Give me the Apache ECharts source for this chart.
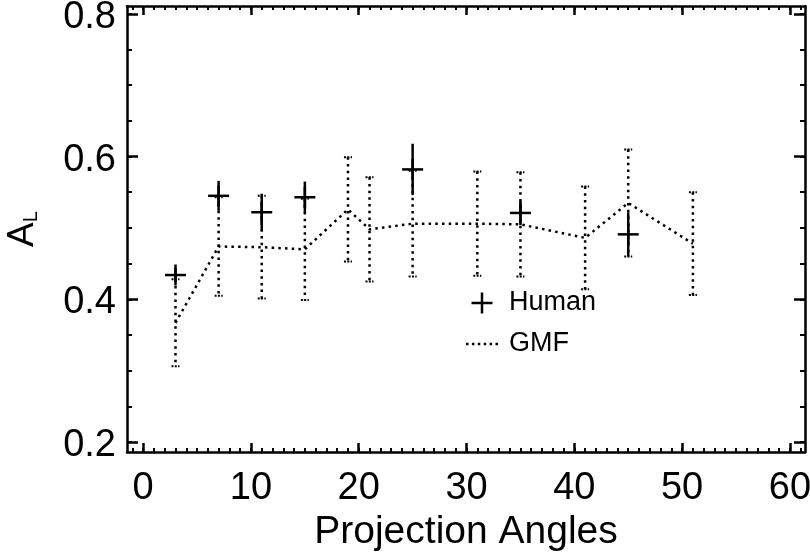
<!DOCTYPE html>
<html>
<head>
<meta charset="utf-8">
<script src="https://cdn.jsdelivr.net/npm/echarts@6/dist/echarts.min.js"></script>
<style>html,body{margin:0;padding:0;background:#fff}#c{width:810px;height:555px}</style>
</head>
<body>
<div id="c"></div>
<script>
// ---- data ----
const humanX = [3, 7, 11, 15, 25, 35, 45];
const humanY = [0.434, 0.545, 0.522, 0.543, 0.582, 0.521, 0.491];
const humanErr = [0.010, 0.021, 0.026, 0.022, 0.036, 0.017, 0.031];

const gmfX = [3, 7, 11, 15, 19, 21, 25, 31, 35, 41, 45, 51];
const gmfY = [0.367, 0.474, 0.473, 0.470, 0.526, 0.498, 0.506, 0.506, 0.505, 0.486, 0.535, 0.478];
const gmfErr = [0.061, 0.069, 0.072, 0.071, 0.073, 0.073, 0.074, 0.073, 0.073, 0.072, 0.075, 0.072];

const xMajorTicks = [0, 10, 20, 30, 40, 50, 60];
const xMinorTicks = [-1, 0, 1, 2, 3, 4, 5, 6, 7, 8, 9, 10, 11, 12, 13, 14, 15, 16, 17, 18, 19, 20,
  21, 22, 23, 24, 25, 26, 27, 28, 29, 30, 31, 32, 33, 34, 35, 36, 37, 38, 39, 40,
  41, 42, 43, 44, 45, 46, 47, 48, 49, 50, 51, 52, 53, 54, 55, 56, 57, 58, 59, 60, 61];
const yMajorTicks = [0.2, 0.4, 0.6, 0.8];
const yMinorTicks = [0.2, 0.25, 0.3, 0.35, 0.4, 0.45, 0.5, 0.55, 0.6, 0.65, 0.7, 0.75, 0.8];

const xMin = -1.5, xMax = 61.4, yMin = 0.186, yMax = 0.811;
// ---------------

const FONT = 'Liberation Sans';
const BLACK = '#000';

function xAxisDef(pos, ticks, len, width, showLine, showLabel) {
  const a = {
    type: 'value', position: pos, min: xMin, max: xMax, gridIndex: 0,
    splitLine: { show: false },
    axisLine: { show: showLine, onZero: false, lineStyle: { color: BLACK, width: 2.5 } },
    axisTick: { show: true, inside: true, length: len, customValues: ticks, lineStyle: { color: BLACK, width: width } },
    axisLabel: { show: showLabel, customValues: xMajorTicks, fontSize: 38, fontFamily: FONT, color: BLACK, margin: 18 }
  };
  if (pos === 'bottom' && showLabel) {
    a.name = 'Projection Angles';
    a.nameLocation = 'middle';
    a.nameGap = 56;
    a.nameTextStyle = { fontSize: 39, fontFamily: FONT, color: BLACK, verticalAlign: 'top' };
  }
  return a;
}
function yAxisDef(pos, ticks, len, width, showLine, showLabel) {
  const a = {
    type: 'value', position: pos, min: yMin, max: yMax, gridIndex: 0,
    splitLine: { show: false },
    axisLine: { show: showLine, onZero: false, lineStyle: { color: BLACK, width: 2.5 } },
    axisTick: { show: true, inside: true, length: len, customValues: ticks, lineStyle: { color: BLACK, width: width } },
    axisLabel: { show: showLabel, customValues: yMajorTicks, color: BLACK, margin: 11,
      formatter: v => '{v|' + v.toFixed(1) + '}',
      rich: { v: { fontSize: 38, fontFamily: FONT, color: BLACK, padding: [7, 0, 0, 0] } } }
  };
  if (pos === 'left' && showLabel) {
    a.name = '{a|A}{b|L}';
    a.nameLocation = 'middle';
    a.nameRotate = 90;
    a.nameGap = 86;
    a.nameTextStyle = {
      verticalAlign: 'bottom',
      rich: {
        a: { fontSize: 37, fontFamily: FONT, color: BLACK },
        b: { fontSize: 20, fontFamily: FONT, color: BLACK, lineHeight: 26, verticalAlign: 'bottom' }
      }
    };
  }
  return a;
}

const humanData = humanX.map((x, i) => [x, humanY[i], humanErr[i]]);
const gmfLine = gmfX.map((x, i) => [x, gmfY[i]]);
const gmfBars = gmfX.map((x, i) => [x, gmfY[i], gmfErr[i]]);

const plusIcon = 'path://M0,9.25H21V11.75H0Z M9.25,0H11.75V21H9.25Z';
const dottedIcon = 'path://M0,0h2.5v2.5h-2.5z M5.9,0h2.5v2.5h-2.5z M11.8,0h2.5v2.5h-2.5z M17.7,0h2.5v2.5h-2.5z M23.6,0h2.5v2.5h-2.5z M29.5,0h2.5v2.5h-2.5z';

const chart = echarts.init(document.getElementById('c'), null, { renderer: 'canvas' });
chart.setOption({
  animation: false,
  backgroundColor: '#fff',
  textStyle: { fontFamily: FONT, color: BLACK },
  grid: { left: 127, right: 5, top: 6, bottom: 103, containLabel: false, outerBoundsMode: 'none' },
  xAxis: [
    xAxisDef('bottom', xMajorTicks, 9, 2.5, true, true),
    xAxisDef('bottom', xMinorTicks, 4, 2, false, false),
    xAxisDef('top', xMajorTicks, 9, 2.5, true, false),
    xAxisDef('top', xMinorTicks, 4, 2, false, false)
  ],
  yAxis: [
    yAxisDef('left', yMajorTicks, 11, 2.5, true, true),
    yAxisDef('left', yMinorTicks, 5, 2, false, false),
    yAxisDef('right', yMajorTicks, 11, 2.5, true, false),
    yAxisDef('right', yMinorTicks, 5, 2, false, false)
  ],
  legend: {
    data: [{ name: 'Human', icon: plusIcon }, { name: 'GMF', icon: dottedIcon, itemStyle: { color: BLACK } }],
    orient: 'vertical', left: 466, top: 289.5,
    itemWidth: 32, itemHeight: 21, itemGap: 14, padding: 0,
    selectedMode: false,
    textStyle: { fontSize: 27, fontFamily: FONT, color: BLACK, padding: [0, 0, 0, 6] }
  },
  series: [
    {
      name: 'GMF', type: 'line', data: gmfLine, symbol: 'none', z: 2,
      lineStyle: { color: BLACK, width: 2.5, type: [2.5, 4.2] },
      itemStyle: { color: BLACK }
    },
    {
      name: 'GMF err', type: 'custom', data: gmfBars, z: 2,
      encode: { x: 0, y: 1 },
      renderItem: function (params, api) {
        const x = api.value(0), y = api.value(1), e = api.value(2);
        const top = api.coord([x, y + e]);
        const bot = api.coord([x, y - e]);
        const st = { stroke: BLACK, lineWidth: 2.5, lineDash: [2.5, 4.2] };
        const cap = { stroke: BLACK, lineWidth: 2, lineDash: [2, 1.3] };
        return {
          type: 'group', children: [
            { type: 'line', shape: { x1: top[0], y1: top[1], x2: bot[0], y2: bot[1] }, style: st },
            { type: 'line', shape: { x1: top[0] - 4, y1: top[1], x2: top[0] + 4, y2: top[1] }, style: cap },
            { type: 'line', shape: { x1: bot[0] - 4, y1: bot[1], x2: bot[0] + 4, y2: bot[1] }, style: cap }
          ]
        };
      }
    },
    {
      name: 'Human', type: 'custom', data: humanData, z: 3,
      encode: { x: 0, y: 1 },
      itemStyle: { color: BLACK },
      renderItem: function (params, api) {
        const x = api.value(0), y = api.value(1), e = api.value(2);
        const c = api.coord([x, y]);
        const top = api.coord([x, y + e]);
        const bot = api.coord([x, y - e]);
        const s = 10.5;
        const st = { stroke: BLACK, lineWidth: 2.5 };
        return {
          type: 'group', children: [
            { type: 'line', shape: { x1: c[0], y1: top[1], x2: c[0], y2: bot[1] }, style: st },
            { type: 'line', shape: { x1: c[0] - s, y1: c[1], x2: c[0] + s, y2: c[1] }, style: st },
            { type: 'line', shape: { x1: c[0], y1: c[1] - s, x2: c[0], y2: c[1] + s }, style: st }
          ]
        };
      }
    }
  ]
});
</script>
</body>
</html>
